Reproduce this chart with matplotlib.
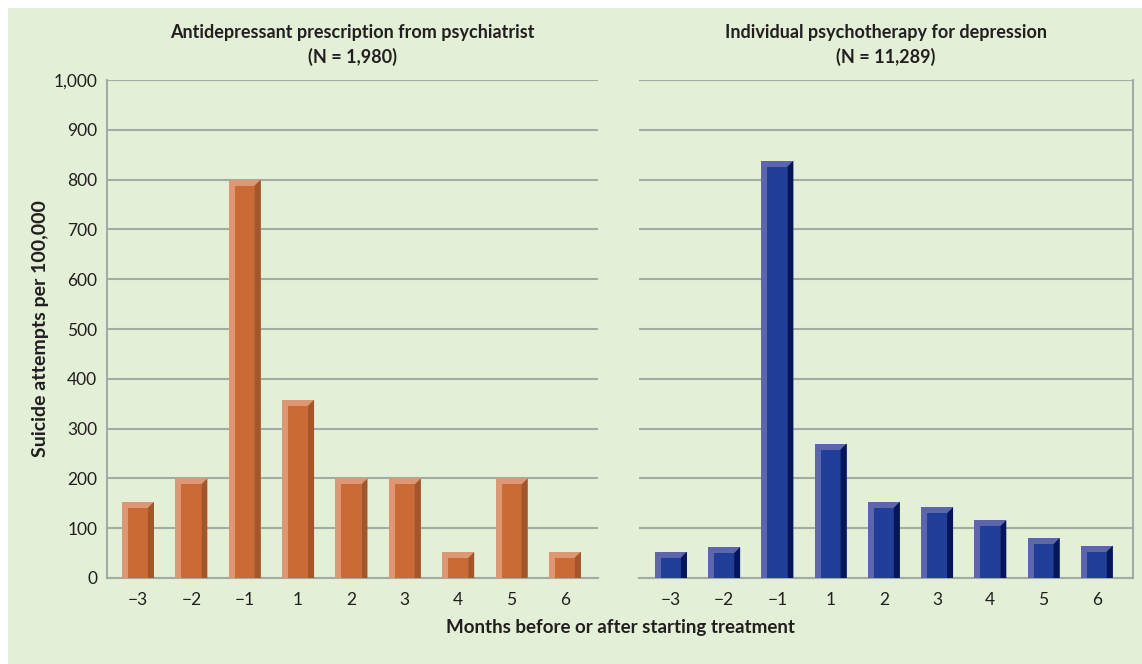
import matplotlib
matplotlib.use("Agg")
import matplotlib.pyplot as plt
from matplotlib.patches import Rectangle, Polygon
from matplotlib.ticker import FuncFormatter

# Months relative to start of treatment
months = ["\u22123", "\u22122", "\u22121", "1", "2", "3", "4", "5", "6"]

# Suicide attempts per 100,000
antidepressant = [153, 200, 800, 358, 200, 200, 52, 200, 53]
psychotherapy = [53, 62, 838, 270, 153, 142, 116, 80, 65]

title_left = "Antidepressant prescription from psychiatrist\n(N = 1,980)"
title_right = "Individual psychotherapy for depression\n(N = 11,289)"
ylabel = "Suicide attempts per 100,000"
xlabel = "Months before or after starting treatment"

BG = "#e3efd6"
GRID = "#a6aaa4"
TEXT = "#231f20"
FONT = "Lato"

orange = ("#dd9873", "#c96a37", "#a2562b")
blue = ("#5d66ad", "#213f99", "#06165a")

fig = plt.figure(figsize=(11.42, 6.64), dpi=100, facecolor="white")
fig.patches.append(Rectangle((8 / 1142, 0), 1 - 8 / 1142, 1 - 8 / 664,
                             transform=fig.transFigure, facecolor=BG,
                             edgecolor="none", zorder=-10))

ax1 = fig.add_axes([107 / 1142, 86 / 664, 491 / 1142, 498 / 664])
ax2 = fig.add_axes([639 / 1142, 86 / 664, 494 / 1142, 498 / 664])


def bevel_bars(ax, values, colors, width=0.6, bx=0.113, by=12):
    light, face, dark = colors
    for i, v in enumerate(values):
        xl = i - width / 2
        xr = i + width / 2
        ax.add_patch(Rectangle((xl, 0), width, v, facecolor=light,
                               edgecolor="none", zorder=3))
        ax.add_patch(Rectangle((xl + bx, 0), width - 2 * bx, v - by,
                               facecolor=face, edgecolor="none", zorder=4))
        ax.add_patch(Polygon([(xr - bx, 0), (xr - bx, v - by), (xr, v), (xr, 0)],
                             closed=True, facecolor=dark, edgecolor="none",
                             zorder=4))


for ax, vals, cols, title in [(ax1, antidepressant, orange, title_left),
                              (ax2, psychotherapy, blue, title_right)]:
    ax.set_facecolor("none")
    bevel_bars(ax, vals, cols)
    ax.set_ylim(0, 1000)
    ax.set_yticks(range(0, 1001, 100))
    ax.set_xticks(range(len(months)))
    ax.set_xticklabels(months)
    ax.grid(axis="y", color=GRID, linewidth=1.5, zorder=1)
    ax.set_axisbelow(True)
    ax.tick_params(length=0, labelsize=12.5, colors=TEXT)
    ax.tick_params(axis="y", pad=7)
    ax.tick_params(axis="x", pad=10)
    for lab in ax.get_xticklabels() + ax.get_yticklabels():
        lab.set_fontfamily(FONT)
    for s in ax.spines.values():
        s.set_color(GRID)
        s.set_linewidth(1.5)
    ax.spines["top"].set_visible(False)
    ax.set_title(title, fontsize=13, fontweight="bold", color=TEXT,
                 family=FONT, pad=12, linespacing=1.45)

ax1.set_xlim(-0.58, 8.62)
ax2.set_xlim(-0.6, 8.68)
ax1.spines["right"].set_visible(False)
ax2.spines["left"].set_visible(False)
ax2.tick_params(axis="y", labelleft=False)
ax1.yaxis.set_major_formatter(FuncFormatter(lambda v, p: f"{int(v):,}"))

ax1.set_ylabel(ylabel, fontsize=14, fontweight="bold", color=TEXT,
               family=FONT, labelpad=3)
fig.text(620 / 1142, 1 - 628 / 664, xlabel, ha="center", va="center",
         fontsize=13.5, fontweight="bold", color=TEXT, family=FONT)

fig.savefig("out.png", dpi=100, facecolor="white")
